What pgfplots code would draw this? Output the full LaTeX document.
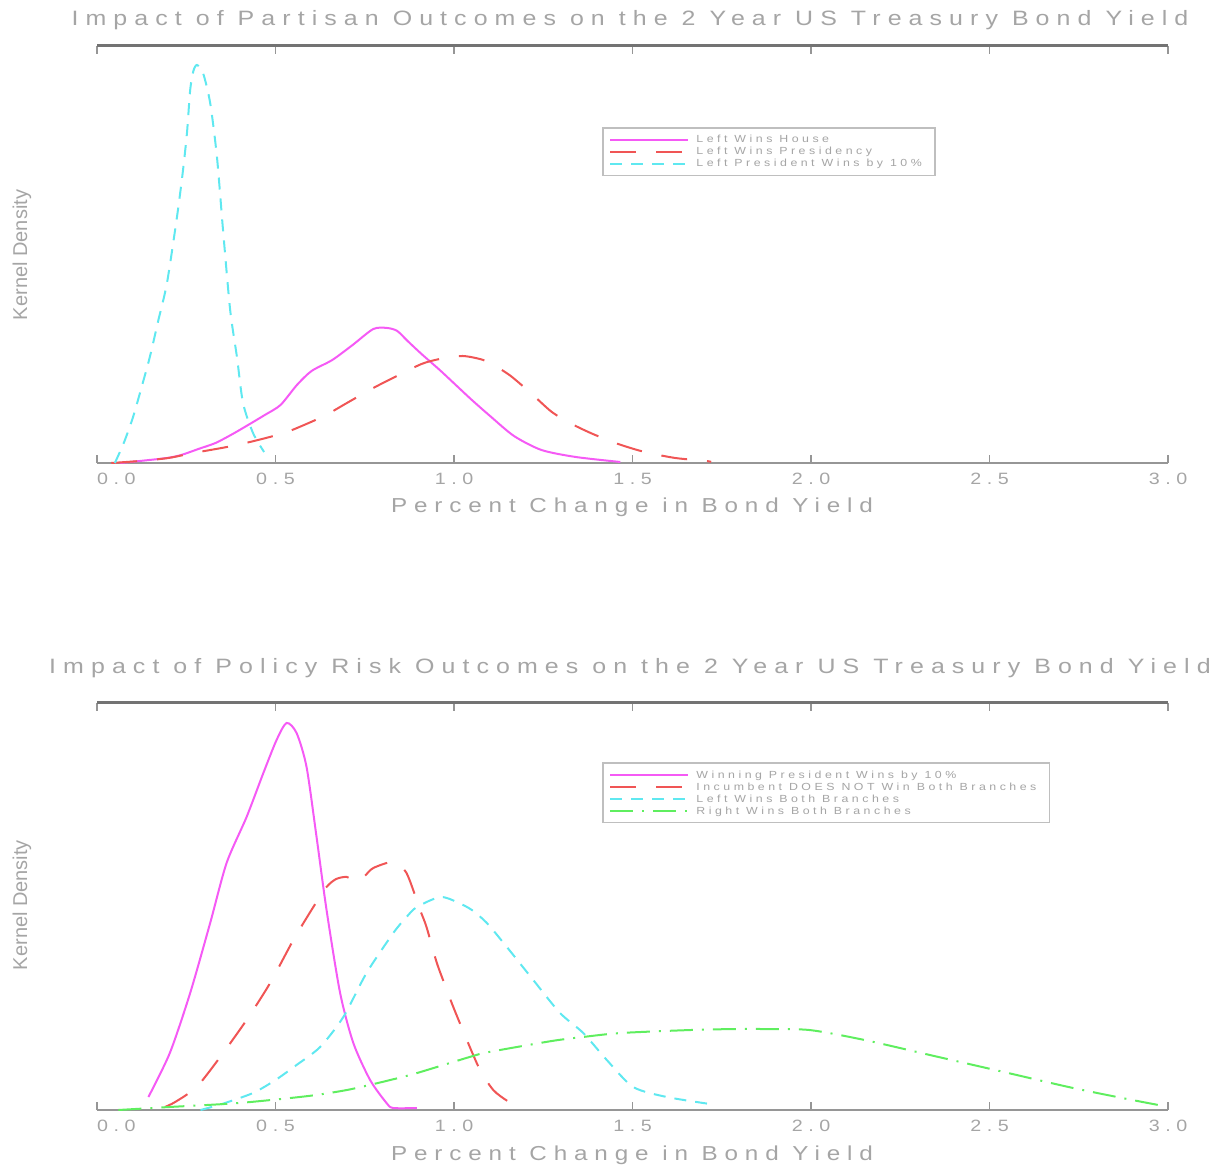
\documentclass[border=0pt]{standalone}
\usepackage{pgfplots}
\usepackage{pgfplotstable}
\pgfplotsset{compat=1.18}
\usepackage{fontspec}
\setmainfont{Liberation Sans}
\newfontfamily\hershey[LetterSpace=34, FakeStretch=1.2]{Liberation Sans}
\definecolor{txt}{RGB}{165,165,165}
\definecolor{axgray}{RGB}{150,150,150}
\definecolor{axdark}{RGB}{115,115,115}
\definecolor{cmag}{RGB}{245,90,245}
\definecolor{cred}{RGB}{240,85,85}
\definecolor{ccyan}{RGB}{95,232,240}
\definecolor{cgreen}{RGB}{95,238,95}

\pgfplotstableread{
x y
0.050 0
0.075 20
0.101 46
0.125 76
0.148 106
0.172 143
0.196 180
0.224 246
0.240 290
0.252 330
0.261 373
0.270 392
0.280 398
0.297 390
0.317 360
0.336 306
0.353 233
0.373 153
0.392 106
0.409 60
0.437 30
0.468 11
}\topcyan

\pgfplotstableread{
x y
0.065 0
0.120 2
0.196 5
0.236 8
0.284 14
0.332 20
0.380 29
0.428 39
0.470 48
0.514 58
0.560 78
0.601 92
0.659 103
0.716 118
0.774 134
0.813 135
0.841 132
0.870 122
0.909 109
0.960 93
1.005 78
1.050 63
1.101 47
1.168 27
1.245 13
1.341 6
1.466 1
}\topmag

\pgfplotstableread{
x y
0.040 0
0.120 2
0.200 5
0.270 10
0.364 16
0.440 22
0.524 30
0.580 38
0.639 47.5
0.700 60
0.774 75
0.840 87
0.909 99
0.960 104
1.024 107
1.082 103
1.120 96
1.159 87
1.215 70
1.274 51
1.330 39
1.389 29
1.460 19
1.534 11
1.620 5
1.707 2
1.720 1
}\topred

\pgfplotstableread{
x y
0.144 13
0.204 57
0.261 117
0.317 187
0.363 247
0.419 293
0.466 337
0.503 370
0.531 387
0.559 377
0.587 343
0.615 273
0.643 200
0.681 117
0.718 67
0.765 30
0.811 7
0.830 2
0.896 2
}\botmag

\pgfplotstableread{
x y
0.190 3
0.219 8
0.279 23
0.345 53
0.419 90
0.485 127
0.550 170
0.606 203
0.643 223
0.670 231
0.700 233
0.727 228
0.750 234
0.774 242
0.830 248
0.867 237
0.905 200
0.923 183
0.952 147
0.980 120
0.998 103
1.036 70
1.073 40
1.110 20
1.150 9
1.185 4
}\botred

\pgfplotstableread{
x y
0.290 0
0.350 6
0.437 17
0.500 30
0.559 45
0.625 63
0.690 93
0.755 137
0.830 177
0.867 193
0.896 203
0.961 213
1.008 208
1.050 200
1.092 187
1.148 163
1.222 130
1.297 97
1.362 77
1.428 50
1.502 23
1.596 13
1.717 6
}\botcyan

\pgfplotstableread{
x y
0.060 0
0.203 3
0.398 7
0.592 14
0.700 20
0.787 27
0.877 35
0.943 42
1.053 54
1.098 58
1.274 69
1.361 73
1.468 77
1.664 80
1.790 81
1.857 81
1.995 80
2.150 70
2.345 54
2.540 38
2.734 22
2.900 10
2.988 4
}\botgreen

\pgfplotsset{
  mystyle/.style={
    scale only axis, width=535.5pt,
    xmin=0, xmax=3,
    axis x line=box, axis y line=none,
    ymin=0, ytick=\empty,
    xtick={0,0.5,1,1.5,2,2.5,3},
    xticklabels={\hphantom{0.0}0.0,0.5,1.0,1.5,2.0,2.5,3.0},
    x axis line style={draw=axgray, line width=1pt},
    every tick/.style={draw=axgray, line width=0.7pt},
    major tick length=4pt,
    xticklabel style={font=\hershey\fontsize{8.2pt}{10pt}\selectfont, text=txt, yshift=-1.5pt},
    legend cell align=left,
    legend image code/.code={\draw[##1] (0pt,0pt) -- (39pt,0pt);},
    legend style={anchor=north west, draw=black!25, line width=0.8pt, fill=white,
      font=\hershey\fontsize{5.15pt}{6pt}\selectfont\color{txt},
      inner xsep=3pt, inner ysep=3.2pt, row sep=0.6pt,
      nodes={inner ysep=0pt, inner xsep=3.6pt, text height=4.4pt, text depth=1pt}},
    clip=false,
  },
  pmag/.style={draw=cmag, line width=1pt, smooth, tension=0.45},
  pred/.style={draw=cred, line width=1pt, dash pattern=on 13pt off 10pt, smooth, tension=0.45},
  pcyan/.style={draw=ccyan, line width=1pt, dash pattern=on 6pt off 4.5pt, smooth, tension=0.45},
  pgreen/.style={draw=cgreen, line width=1pt, dash pattern=on 11.5pt off 4.5pt on 1pt off 4.5pt, smooth, tension=0.45},
}

\begin{document}
\begin{tikzpicture}
\useasboundingbox (0,0) rectangle (610pt,583.5pt);

\begin{axis}[mystyle, at={(48.5pt,352pt)}, anchor=south west, height=208.5pt, ymax=417,
  legend style={at={(rel axis cs:0.4719,0.8058)}}]
\addplot[pmag] table {\topmag};
\addlegendentry{Left Wins House}
\addplot[pred] table {\topred};
\addlegendentry{Left Wins Presidency}
\addplot[pcyan] table {\topcyan};
\addlegendentry{Left President Wins by 10\%}
\draw[axdark, line width=1.5pt] (rel axis cs:0,1) -- (rel axis cs:1,1);
\end{axis}

\begin{axis}[mystyle, at={(48.5pt,28.5pt)}, anchor=south west, height=203.5pt, ymax=407,
  legend style={at={(rel axis cs:0.4719,0.855)}}]
\addplot[pmag] table {\botmag};
\addlegendentry{Winning President Wins by 10\%}
\addplot[pred] table {\botred};
\addlegendentry{Incumbent DOES NOT Win Both Branches}
\addplot[pcyan] table {\botcyan};
\addlegendentry{Left Wins Both Branches}
\addplot[pgreen] table {\botgreen};
\addlegendentry{Right Wins Both Branches}
\draw[axdark, line width=1.5pt] (rel axis cs:0,1) -- (rel axis cs:1,1);
\end{axis}

\node[font=\hershey\fontsize{10.4pt}{12pt}\selectfont, text=txt] at (315pt,573.5pt) {Impact of Partisan Outcomes on the 2 Year US Treasury Bond Yield};
\node[font=\hershey\fontsize{10.4pt}{12pt}\selectfont, text=txt] at (315pt,249.5pt) {Impact of Policy Risk Outcomes on the 2 Year US Treasury Bond Yield};
\node[font=\hershey\fontsize{10.1pt}{12pt}\selectfont, text=txt] at (316pt,330pt) {Percent Change in Bond Yield};
\node[font=\hershey\fontsize{10.1pt}{12pt}\selectfont, text=txt] at (316pt,6pt) {Percent Change in Bond Yield};
\node[font=\fontsize{10pt}{11pt}\selectfont, text=txt, rotate=90] at (11pt,456pt) {Kernel Density};
\node[font=\fontsize{10pt}{11pt}\selectfont, text=txt, rotate=90] at (11pt,131pt) {Kernel Density};
\end{tikzpicture}
\end{document}
